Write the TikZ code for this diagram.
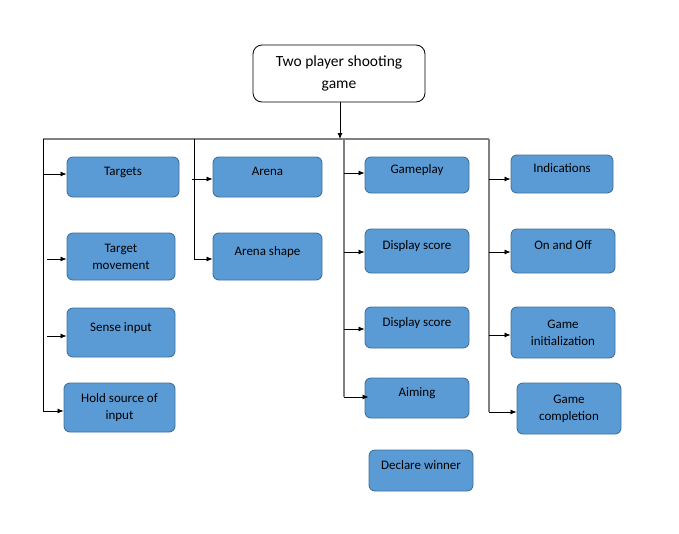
\documentclass[tikz,border=0pt]{standalone}
\usepackage{fontspec}
\setmainfont{Carlito}
\usetikzlibrary{arrows.meta}
\definecolor{boxfill}{HTML}{5B9BD5}
\definecolor{boxline}{HTML}{41719C}
\definecolor{busgray}{HTML}{808080}
\tikzset{
  box/.style={draw=boxline, fill=boxfill, line width=0.9pt, rounded corners=6pt,
    font=\fontsize{13}{17}\selectfont, align=center, inner sep=0pt, text=black},
  oneline/.style={text height=9pt, text depth=12pt},
  topbox/.style={draw=black, fill=white, line width=0.8pt, rounded corners=9pt,
    font=\fontsize{15.5}{22}\selectfont, align=center, inner sep=0pt,
    minimum width=172pt, minimum height=57pt},
  arr/.style={draw=black, line width=0.8pt, -{Latex[length=6pt,width=5pt]}},
  busk/.style={draw=black, line width=0.8pt},
  busg/.style={draw=busgray, line width=1.4pt},
}
\begin{document}
\begin{tikzpicture}[x=1pt,y=-1pt]
\useasboundingbox (0,0) rectangle (679,533);
% top node
\node[topbox] (top) at (339,73.5) {Two player shooting\\game};
% column 1
\node[box, oneline, minimum width=112pt, minimum height=40pt] (targets) at (123,177) {Targets};
\node[box, minimum width=108pt, minimum height=47pt] (tmove) at (121,256.5) {Target\\movement};
\node[box, oneline, minimum width=108pt, minimum height=49pt] (sense) at (121,332.5) {Sense input};
\node[box, minimum width=111pt, minimum height=49pt] (hold) at (119.5,407.5) {Hold source of\\input};
% column 2
\node[box, oneline, minimum width=109pt, minimum height=40pt] (arena) at (267.5,177) {Arena};
\node[box, oneline, minimum width=109pt, minimum height=47pt] (ashape) at (267.5,256.5) {Arena shape};
% column 3
\node[box, oneline, minimum width=104pt, minimum height=36pt] (gameplay) at (417,175) {Gameplay};
\node[box, oneline, minimum width=104pt, minimum height=44pt] (disp1) at (417,251) {Display score};
\node[box, oneline, minimum width=104pt, minimum height=41pt] (disp2) at (417,327.5) {Display score};
\node[box, oneline, minimum width=104pt, minimum height=40pt] (aiming) at (417,398) {Aiming};
\node[box, oneline, minimum width=104pt, minimum height=41pt] (declare) at (421,470.5) {Declare winner};
% column 4
\node[box, oneline, minimum width=102pt, minimum height=38pt] (indic) at (562,174) {Indications};
\node[box, oneline, minimum width=104pt, minimum height=44pt] (onoff) at (563,251) {On and Off};
\node[box, minimum width=104pt, minimum height=51pt] (ginit) at (563,332.5) {Game\\initialization};
\node[box, minimum width=104pt, minimum height=51pt] (gcomp) at (569,408.5) {Game\\completion};
% bus coordinates
\coordinate (busL) at (43,139);
\coordinate (busR) at (489,139);
\coordinate (busT) at (340,139);
\coordinate (b1end) at (43,411);
\coordinate (b2top) at (194,139);
\coordinate (b2end) at (194,259);
\coordinate (b3top) at (344,139);
\coordinate (b3end) at (344,397);
\coordinate (b4end) at (489,412);
% bus lines
\draw[busg] (busL) -- (busR);
\draw[busk] (busL) -- (b1end);
\draw[busk] (b2top) -- (b2end);
\draw[busg] (b3top) -- (b3end);
\draw[busg] (busR) -- (b4end);
% top arrow
\draw[arr] (top.south -| busT) -- (busT);
% arrow start points
\coordinate (sTargets) at (43,174);
\coordinate (sTmove) at (47,259);
\coordinate (sSense) at (47,336);
\coordinate (sHold) at (43,411);
\coordinate (sArena) at (192,179);
\coordinate (sAshape) at (194,259);
\coordinate (sGameplay) at (344,173);
\coordinate (sDisp1) at (344,252);
\coordinate (sDisp2) at (344,329);
\coordinate (sAiming) at (344,397);
\coordinate (sIndic) at (489,179);
\coordinate (sOnoff) at (489,252);
\coordinate (sGinit) at (489,335);
\coordinate (sGcomp) at (489,412);
% arrows
\draw[arr] (sTargets) -- (sTargets -| targets.west);
\draw[arr] (sTmove) -- (sTmove -| tmove.west);
\draw[arr] (sSense) -- (sSense -| sense.west);
\draw[arr] (sHold) -- (sHold -| hold.west);
\draw[arr] (sArena) -- (sArena -| arena.west);
\draw[arr] (sAshape) -- (sAshape -| ashape.west);
\draw[arr] (sGameplay) -- (sGameplay -| gameplay.west);
\draw[arr] (sDisp1) -- (sDisp1 -| disp1.west);
\draw[arr] (sDisp2) -- (sDisp2 -| disp2.west);
\draw[arr] (sAiming) -- ([xshift=4pt]sAiming -| aiming.west);
\draw[arr] (sIndic) -- (sIndic -| indic.west);
\draw[arr] (sOnoff) -- (sOnoff -| onoff.west);
\draw[arr] (sGinit) -- (sGinit -| ginit.west);
\draw[arr] (sGcomp) -- (sGcomp -| gcomp.west);
\end{tikzpicture}
\end{document}
